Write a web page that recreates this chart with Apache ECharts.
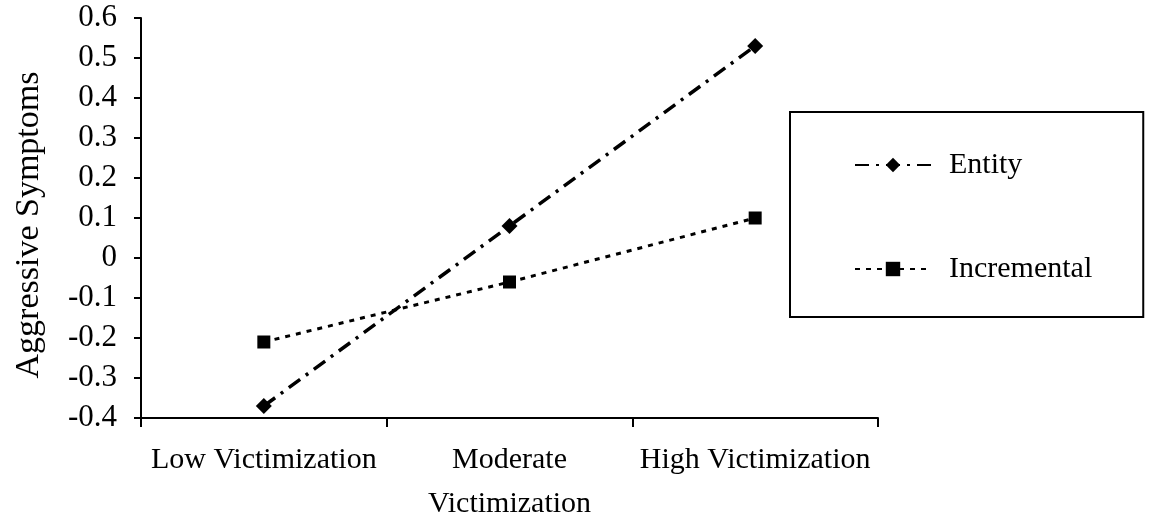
<!DOCTYPE html>
<html>
<head>
<meta charset="utf-8">
<script src="https://cdn.jsdelivr.net/npm/echarts@6/dist/echarts.min.js"></script>
<style>
  html, body { margin: 0; padding: 0; background: #fff; }
  #chart { width: 1150px; height: 526px; }
</style>
</head>
<body>
<div id="chart"></div>
<script>
const categories = ["Low Victimization", "Moderate\nVictimization", "High Victimization"];
const entity = [-0.37, 0.08, 0.53];
const incremental = [-0.21, -0.06, 0.10];
const yTicks = { min: -0.4, max: 0.6, interval: 0.1 };

const font = "'Liberation Serif', 'Times New Roman', serif";

const chart = echarts.init(document.getElementById("chart"));
const option = {
  animation: false,
  textStyle: { fontFamily: font, color: "#000" },
  grid: { left: 141, right: 272, top: 18, bottom: 104 },
  legend: {
    orient: "vertical",
    left: 790,
    top: 112,
    padding: [38, 51, 33, 64],
    borderColor: "#000",
    borderWidth: 2,
    itemWidth: 76,
    itemHeight: 18,
    itemGap: 74,
    textStyle: { fontFamily: font, fontSize: 30, color: "#000", padding: [0, 0, 0, 13] },
    data: ["Entity", "Incremental"],
  },
  xAxis: {
    type: "category",
    data: categories,
    boundaryGap: true,
    axisLine: { onZero: false, lineStyle: { color: "#000", width: 2 } },
    axisTick: { show: true, alignWithLabel: false, length: 9, lineStyle: { color: "#000", width: 2 } },
    axisLabel: { color: "#000", fontFamily: font, fontSize: 30, lineHeight: 44, margin: 20, interval: 0 },
  },
  yAxis: {
    type: "value",
    min: yTicks.min,
    max: yTicks.max,
    interval: yTicks.interval,
    name: "Aggressive Symptoms",
    nameLocation: "middle",
    nameGap: 95,
    nameRotate: 90,
    nameTextStyle: { fontFamily: font, fontSize: 34, color: "#000", padding: [0, 14, 0, 0] },
    splitLine: { show: false },
    axisLine: { show: true, lineStyle: { color: "#000", width: 2 } },
    axisTick: { show: true, length: 7, lineStyle: { color: "#000", width: 2 } },
    axisLabel: {
      color: "#000",
      fontFamily: font,
      fontSize: 31,
      margin: 24,
      formatter: (v) => (Math.abs(v) < 1e-9 ? "0" : String(Math.round(v * 10) / 10)),
    },
  },
  series: [
    {
      name: "Entity",
      type: "line",
      data: entity,
      symbol: "diamond",
      symbolSize: 16,
      itemStyle: { color: "#000" },
      lineStyle: { color: "#000", width: 3.5, type: [14, 7, 3, 7] },
    },
    {
      name: "Incremental",
      type: "line",
      data: incremental,
      symbol: "rect",
      symbolSize: 13,
      itemStyle: { color: "#000" },
      lineStyle: { color: "#000", width: 3, type: [5, 6] },
    },
  ],
};
chart.setOption(option);
</script>
</body>
</html>
